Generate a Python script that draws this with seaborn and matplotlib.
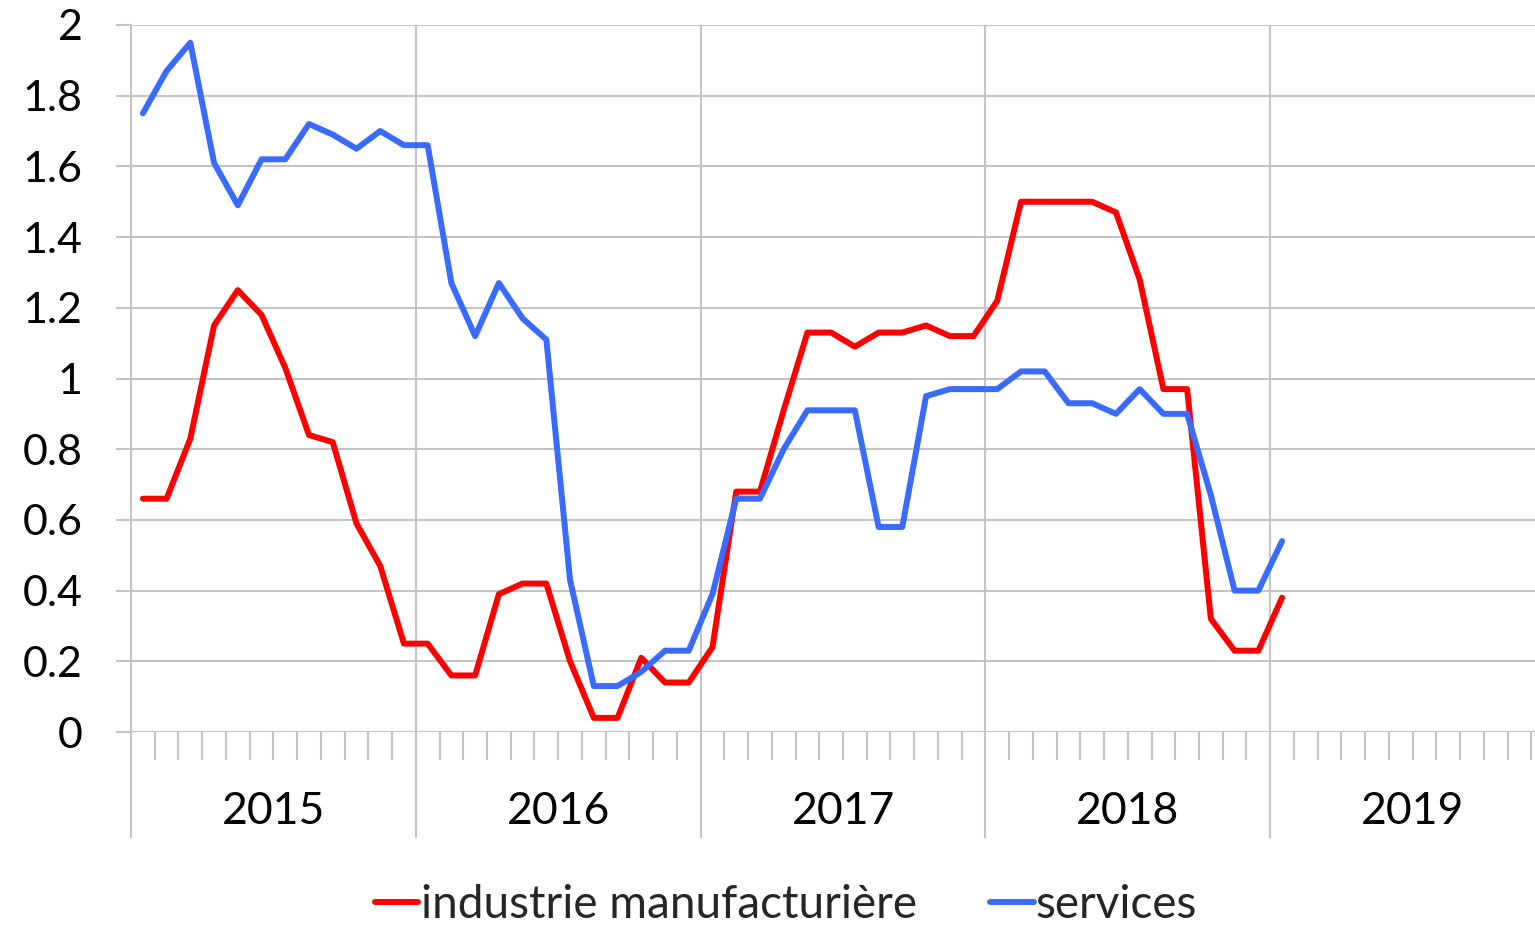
import pandas as pd
import numpy as np
import matplotlib
matplotlib.use("Agg")
import matplotlib.pyplot as plt
import seaborn as sns
from matplotlib.transforms import blended_transform_factory

# Monthly values, Jan 2015 - Jan 2019
industrie = [0.66, 0.66, 0.83, 1.15, 1.25, 1.18, 1.03, 0.84, 0.82, 0.59, 0.47, 0.25,
             0.25, 0.16, 0.16, 0.39, 0.42, 0.42, 0.20, 0.04, 0.04, 0.21, 0.14, 0.14,
             0.24, 0.68, 0.68, 0.91, 1.13, 1.13, 1.09, 1.13, 1.13, 1.15, 1.12, 1.12,
             1.22, 1.50, 1.50, 1.50, 1.50, 1.47, 1.28, 0.97, 0.97, 0.32, 0.23, 0.23,
             0.38]
services = [1.75, 1.87, 1.95, 1.61, 1.49, 1.62, 1.62, 1.72, 1.69, 1.65, 1.70, 1.66,
            1.66, 1.27, 1.12, 1.27, 1.17, 1.11, 0.43, 0.13, 0.13, 0.17, 0.23, 0.23,
            0.39, 0.66, 0.66, 0.80, 0.91, 0.91, 0.91, 0.58, 0.58, 0.95, 0.97, 0.97,
            0.97, 1.02, 1.02, 0.93, 0.93, 0.90, 0.97, 0.90, 0.90, 0.67, 0.40, 0.40,
            0.54]
years = ["2015", "2016", "2017", "2018", "2019"]
series_names = ["industrie manufacturière", "services"]
colors = ["#ff0000", "#3a6bff"]

n_months = 12 * len(years)
df = pd.DataFrame({
    "mois": list(range(len(industrie))) * 2,
    "valeur": industrie + services,
    "serie": [series_names[0]] * len(industrie) + [series_names[1]] * len(services),
})

sns.set_style("white")
plt.rcParams["font.family"] = ["Lato", "DejaVu Sans"]

fig = plt.figure(figsize=(15.35, 9.25), dpi=100)
W, H = 1535, 925
ax = fig.add_axes([131 / W, (H - 732) / H, 1424 / W, (732 - 25) / H])

grid_c = "#c4c4c4"
sns.lineplot(data=df, x="mois", y="valeur", hue="serie", palette=colors,
             linewidth=4.3, ax=ax, legend=True)

ax.set_xlim(-0.5, n_months - 0.5)
ax.set_ylim(0, 2)
ax.set_yticks(np.arange(0, 2.01, 0.2))
ax.set_yticklabels(["0", "0.2", "0.4", "0.6", "0.8", "1", "1.2", "1.4", "1.6", "1.8", "2"])
ax.yaxis.grid(True, color=grid_c, linewidth=1.5)
ax.set_axisbelow(True)

# year separators as gridlines
for k in range(1, len(years)):
    ax.axvline(12 * k - 0.5, color=grid_c, linewidth=1.5, zorder=0)

for s in ["top", "right", "bottom"]:
    ax.spines[s].set_visible(False)
ax.spines["left"].set_color(grid_c)
ax.spines["left"].set_linewidth(1.5)

ax.tick_params(axis="y", left=True, length=11, width=1.5, color=grid_c, pad=24,
               labelsize=31, labelcolor="black")

# month ticks (minor) and year boundaries (major)
ax.set_xticks([12 * k - 0.5 for k in range(len(years) + 1)])
ax.set_xticklabels([])
ax.set_xticks([m - 0.5 for m in range(n_months + 1)], minor=True)
ax.tick_params(axis="x", which="major", bottom=True, length=76, width=1.5, color=grid_c)
ax.tick_params(axis="x", which="minor", bottom=True, length=20, width=1.5, color=grid_c)
ax.axhline(0, color=grid_c, linewidth=1.5, zorder=0)

trans = blended_transform_factory(ax.transData, ax.transAxes)
for i, y in enumerate(years):
    ax.text(12 * i + 5.5, -0.113, y, transform=trans, ha="center", va="center",
            fontsize=32, color="black")

ax.set_xlabel("")
ax.set_ylabel("")

handles, labels = ax.get_legend_handles_labels()
ax.legend_.remove()
fig.legend(handles, labels, loc="center", bbox_to_anchor=(786 / W, 1 - 905 / H),
           ncol=2, frameon=False, fontsize=33, handlelength=0.95,
           handletextpad=0.05, columnspacing=1.6)

fig.savefig("out.png", dpi=100)
